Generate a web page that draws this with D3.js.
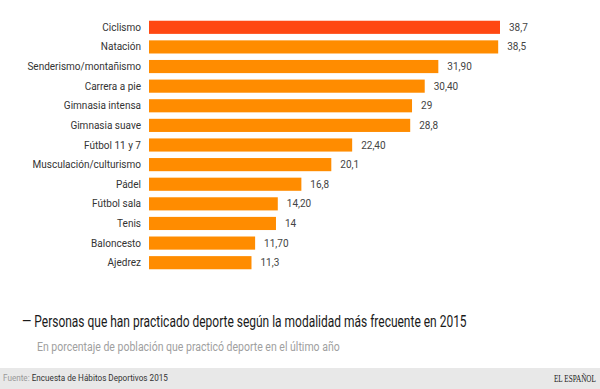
<!DOCTYPE html>
<html>
<head>
<meta charset="utf-8">
<script src="https://cdn.jsdelivr.net/npm/d3@7"></script>
<style>
body { margin: 0; background: #fff; }
svg { display: block; font-family: Roboto, "Noto Sans", sans-serif; }
</style>
</head>
<body>
<svg id="chart" width="600" height="389"></svg>
<script>
var categories = ["Ciclismo", "Natación", "Senderismo/montañismo", "Carrera a pie",
	"Gimnasia intensa", "Gimnasia suave", "Fútbol 11 y 7", "Musculación/culturismo",
	"Pádel", "Fútbol sala", "Tenis", "Baloncesto", "Ajedrez"];
var values = [38.7, 38.5, 31.9, 30.4, 29, 28.8, 22.4, 20.1, 16.8, 14.2, 14, 11.7, 11.3];
var valueLabels = ["38,7", "38,5", "31,90", "30,40", "29", "28,8", "22,40", "20,1",
	"16,8", "14,20", "14", "11,70", "11,3"];

var title = "— Personas que han practicado deporte según la modalidad más frecuente en 2015";
var subtitle = "En porcentaje de población que practicó deporte en el último año";
var source = "Encuesta de Hábitos Deportivos 2015";

var svg = d3.select("#chart");
var w = 600, h = 389;

var data = categories.map(function(c, i){
	return {name: c, value: values[i], label: valueLabels[i]};
});

// squeeze a text horizontally so it spans the given width (condensed look)
function fitWidth(g, text, width){
	var natural = text.node().getComputedTextLength();
	var k = width / natural;
	var x0 = +text.attr("x");
	var anchorEnd = text.attr("text-anchor") == "end";
	g.attr("transform", "translate(" + x0 + ",0) scale(" + k + ",1) translate(" + (-x0) + ",0)");
}

// bars
var x = d3.scaleLinear().domain([0, 38.7]).range([149, 500]);
var y = d3.scaleBand().domain(categories).range([17.5, 272.5]).paddingInner(0.33).paddingOuter(0.165);

svg.selectAll("rect.bar")
	.data(data).enter().append("rect")
	.attr("class", "bar")
	.attr("x", x(0))
	.attr("y", function(d){ return y(d.name); })
	.attr("width", function(d){ return x(d.value) - x(0); })
	.attr("height", y.bandwidth())
	.attr("fill", function(d, i){ return i == 0 ? "#ff4812" : "#ff8c00"; });

svg.selectAll("text.cat")
	.data(data).enter().append("text")
	.attr("class", "cat")
	.attr("x", 141)
	.attr("y", function(d){ return y(d.name) + y.bandwidth()/2; })
	.attr("dy", "0.35em")
	.attr("text-anchor", "end")
	.attr("font-size", 10)
	.attr("fill", "#333")
	.text(function(d){ return d.name; });

svg.selectAll("text.val")
	.data(data).enter().append("text")
	.attr("class", "val")
	.attr("x", function(d){ return x(d.value) + 9; })
	.attr("y", function(d){ return y(d.name) + y.bandwidth()/2; })
	.attr("dy", "0.35em")
	.attr("font-size", 10)
	.attr("fill", "#444")
	.text(function(d){ return d.label; });

// titles
var gTitle = svg.append("g");
var tTitle = gTitle.append("text")
	.attr("x", 22).attr("y", 327)
	.attr("font-size", 16)
	.attr("fill", "#1a1a1a")
	.text(title);
fitWidth(gTitle, tTitle, 445);

var gSub = svg.append("g");
var tSub = gSub.append("text")
	.attr("x", 37).attr("y", 351)
	.attr("font-size", 13)
	.attr("fill", "#a0a0a0")
	.text(subtitle);
fitWidth(gSub, tSub, 303);

// footer
svg.append("rect")
	.attr("x", 0).attr("y", 368)
	.attr("width", w).attr("height", h - 368)
	.attr("fill", "#e8e8e8");

var gFoot = svg.append("g");
var foot = gFoot.append("text")
	.attr("x", 3).attr("y", 381.5)
	.attr("font-size", 9);
foot.append("tspan").attr("fill", "#999").text("Fuente: ");
foot.append("tspan").attr("fill", "#333").text(source);
fitWidth(gFoot, foot, 165);

var gLogo = svg.append("g");
var logo = gLogo.append("text")
	.attr("x", 554).attr("y", 382)
	.attr("font-family", "'Liberation Serif', 'DejaVu Serif', serif")
	.attr("font-size", 10.5)
	.attr("fill", "#222")
	.text("EL ESPAÑOL");
fitWidth(gLogo, logo, 42);
</script>
</body>
</html>
